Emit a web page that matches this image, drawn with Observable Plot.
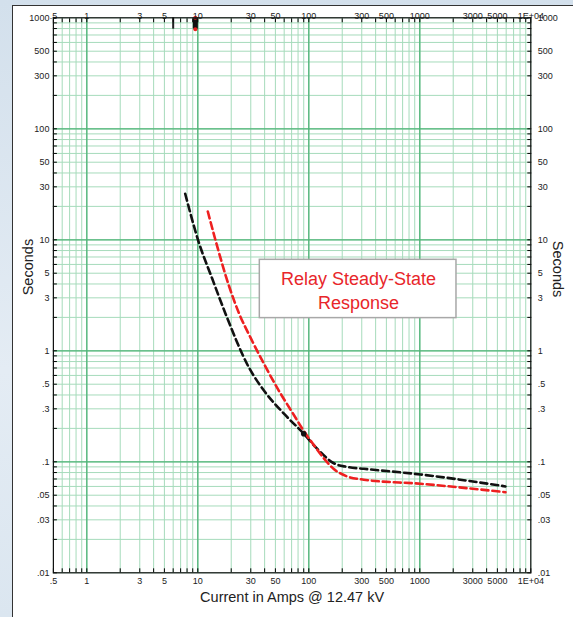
<!DOCTYPE html>
<html>
<head>
<meta charset="utf-8">
<script src="https://cdn.jsdelivr.net/npm/d3@7"></script>
<script src="https://cdn.jsdelivr.net/npm/@observablehq/plot@0.6"></script>
<style>
  html, body { margin: 0; padding: 0; }
  body { width: 573px; height: 617px; overflow: hidden; background: linear-gradient(180deg, #d3e0ec 0%, #e4ecf4 60%, #dbe6f0 100%); }
  #wrap { position: relative; width: 573px; height: 617px; }
  #panel { position: absolute; left: 12px; top: 5px; right: 0; bottom: 0; background: #fff; border-left: 1px solid #333; border-top: 1px solid #333; }
  #chart { position: absolute; left: 0; top: 0; }
</style>
</head>
<body>
<div id="wrap"><div id="panel"></div><div id="chart"></div></div>
<script>
// Time-current characteristic: relay operating time vs. current
const blackAmps = [7.7, 10.2, 13.5, 17.8, 28.8, 40, 60, 90, 120, 168, 220, 313, 1014, 5916];
const blackSecs = [26, 9.5, 4.45, 2.15, 0.71, 0.43, 0.27, 0.179, 0.13, 0.097, 0.09, 0.0865, 0.0769, 0.060];

const redAmps = [12.3, 14.4, 19, 23.4, 30, 40.7, 55, 70.8, 90, 115, 136, 168, 220, 313, 1014, 5916];
const redSecs = [18, 10, 3.9, 2.2, 1.3, 0.72, 0.42, 0.28, 0.19, 0.135, 0.108, 0.086, 0.074, 0.069, 0.0634, 0.0532];

// Markers sitting on the top edge of the grid
const topMarkAmps = [6, 9.5];

// Tick labels
const xTickValues = [0.5, 1, 3, 5, 10, 30, 50, 100, 300, 500, 1000, 3000, 5000, 10000];
const xTickLabels = [".5", "1", "3", "5", "10", "30", "50", "100", "300", "500", "1000", "3000", "5000", "1E+04"];
const yTickValues = [1000, 500, 300, 100, 50, 30, 10, 5, 3, 1, 0.5, 0.3, 0.1, 0.05, 0.03, 0.01];
const yTickLabels = ["1000", "500", "300", "100", "50", "30", "10", "5", "3", "1", ".5", ".3", ".1", ".05", ".03", ".01"];

const xTitle = "Current in Amps @ 12.47 kV";
const yTitle = "Seconds";
const noteText = "Relay Steady-State\nResponse";

// Log grid positions (1..9 per decade)
function logSteps(lo, hi) {
  const out = [];
  for (let e = Math.floor(Math.log10(lo)); e <= Math.ceil(Math.log10(hi)); e++) {
    for (let k = 1; k <= 9; k++) {
      const v = +(k * Math.pow(10, e)).toPrecision(6);
      if (v >= lo * 0.999 && v <= hi * 1.001) out.push(v);
    }
  }
  return out;
}
const xMinor = logSteps(0.5, 10000);
const yMinor = logSteps(0.01, 1000);
const xMajor = [1, 10, 100, 1000];
const yMajor = [0.1, 1, 10, 100];

const blackData = blackAmps.map((a, i) => ({amps: a, secs: blackSecs[i]}));
const redData = redAmps.map((a, i) => ({amps: a, secs: redSecs[i]}));

const minorColor = "#a6dbbb";
const majorColor = "#4fb477";
const tickFont = 9;
const labelFill = "#222";

const chart = Plot.plot({
  width: 573,
  height: 617,
  marginLeft: 52.9,
  marginRight: 42.7,
  marginTop: 17.3,
  marginBottom: 44.7,
  x: {type: "log", domain: [0.5, 10000]},
  y: {type: "log", domain: [0.01, 1000]},
  style: {background: "transparent", fontFamily: "'Liberation Sans', Arial, sans-serif", overflow: "visible"},
  marks: [
    // grid
    Plot.ruleX(xMinor, {stroke: minorColor, strokeWidth: 1}),
    Plot.ruleY(yMinor, {stroke: minorColor, strokeWidth: 1}),
    Plot.ruleX(xMajor, {stroke: majorColor, strokeWidth: 1.3}),
    Plot.ruleY(yMajor, {stroke: majorColor, strokeWidth: 1.3}),

    // annotation box
    Plot.rect([0], {x1: 36.2, x2: 2140, y1: 1.97, y2: 6.6, fill: "#fff", stroke: "#a8a8a8", strokeWidth: 1.5}),
    Plot.text([noteText], {x: 280, y: 3.6, text: d => d, fill: "#e8262a", fontSize: 18, lineHeight: 1.36}),

    // curves
    Plot.line(blackData, {x: "amps", y: "secs", stroke: "#111", strokeWidth: 2.6, strokeDasharray: "7,4", curve: "monotone-x"}),
    Plot.line(redData, {x: "amps", y: "secs", stroke: "#ee2020", strokeWidth: 2.6, strokeDasharray: "7,4", curve: "monotone-x"}),
    Plot.dot([blackData[7]], {x: "amps", y: "secs", r: 2.8, fill: "#111"}),

    // markers at the top edge
    Plot.ruleX([topMarkAmps[0]], {y1: 1000, y2: 790, stroke: "#222", strokeWidth: 2}),
    Plot.ruleX([topMarkAmps[1]], {y1: 1000, y2: 790, stroke: "#111", strokeWidth: 5}),
    Plot.dot([topMarkAmps[1]], {x: d => d, y: 1000, r: 2, fill: "#e82020"}),
    Plot.dot([topMarkAmps[1]], {x: d => d, y: 790, r: 2, fill: "#e82020"}),

    // inward ticks on all four sides
    Plot.axisX(xMinor, {anchor: "bottom", tickSize: 4, dy: -4, tickFormat: () => "", label: null}),
    Plot.axisX(xMinor, {anchor: "top", tickSize: 4, dy: 4, tickFormat: () => "", label: null}),
    Plot.axisY(yMinor, {anchor: "left", tickSize: 4, dx: 4, tickFormat: () => "", label: null}),
    Plot.axisY(yMinor, {anchor: "right", tickSize: 4, dx: -4, tickFormat: () => "", label: null}),

    // tick labels
    Plot.text(xTickValues, {x: d => d, frameAnchor: "bottom", dy: 11, text: (d, i) => xTickLabels[i], fontSize: tickFont, fill: labelFill}),
    Plot.text(xTickValues, {x: d => d, frameAnchor: "top", dy: -5.5, text: (d, i) => xTickLabels[i], fontSize: tickFont, fill: labelFill}),
    Plot.text(yTickValues, {y: d => d, frameAnchor: "left", dx: -4, textAnchor: "end", text: (d, i) => yTickLabels[i], fontSize: tickFont, fill: labelFill}),
    Plot.text(yTickValues, {y: d => d, frameAnchor: "right", dx: 7, textAnchor: "start", text: (d, i) => yTickLabels[i], fontSize: tickFont, fill: labelFill}),

    Plot.frame({stroke: "#111", strokeWidth: 1.2}),

    // axis titles
    Plot.text([xTitle], {frameAnchor: "bottom", dy: 29, text: d => d, fontSize: 14.5, fill: "#222"}),
    Plot.text([yTitle], {frameAnchor: "left", dx: -25, text: d => d, fontSize: 14.5, rotate: -90, fill: "#222"}),
    Plot.text([yTitle], {frameAnchor: "right", dx: 27, dy: 2, text: d => d, fontSize: 14.5, rotate: 90, fill: "#222"})
  ]
});

document.getElementById("chart").append(chart);
</script>
</body>
</html>
